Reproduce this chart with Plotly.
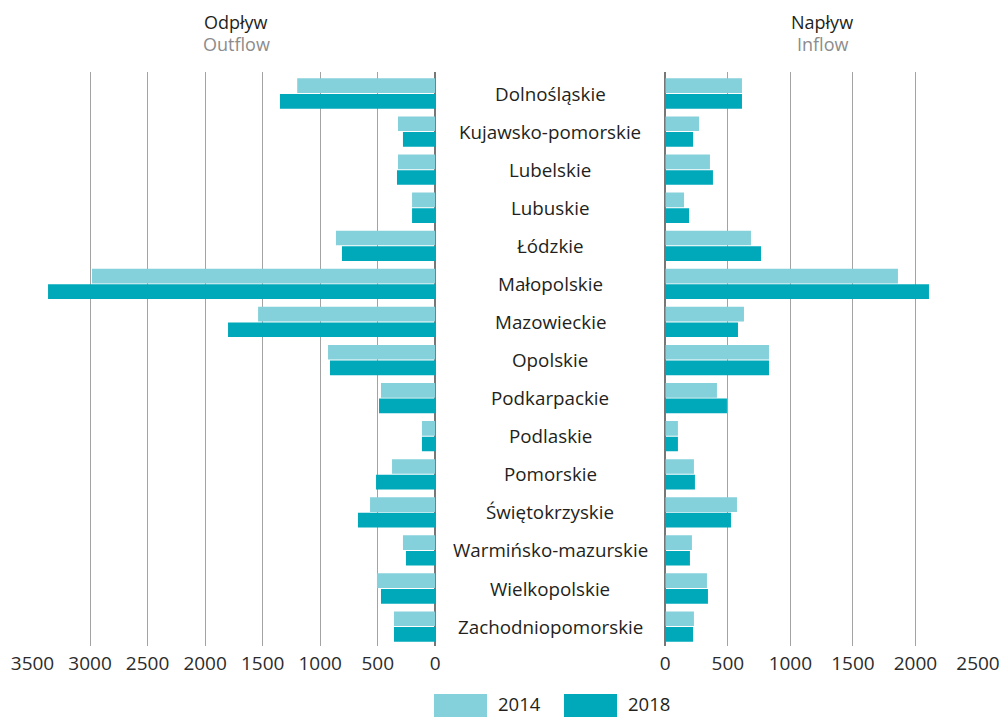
import plotly.graph_objects as go

categories = ["Dolnośląskie", "Kujawsko-pomorskie", "Lubelskie", "Lubuskie", "Łódzkie",
              "Małopolskie", "Mazowieckie", "Opolskie", "Podkarpackie", "Podlaskie",
              "Pomorskie", "Świętokrzyskie", "Warmińsko-mazurskie", "Wielkopolskie",
              "Zachodniopomorskie"]
outflow_2014 = [1200, 324, 324, 202, 863, 2983, 1540, 932, 472, 116, 376, 567, 281, 507, 359]
outflow_2018 = [1350, 281, 333, 202, 811, 3365, 1801, 915, 489, 116, 515, 672, 255, 472, 359]
inflow_2014 = [613, 270, 357, 150, 685, 1860, 629, 829, 413, 101, 229, 573, 213, 333, 229]
inflow_2018 = [613, 222, 381, 190, 765, 2108, 581, 829, 493, 101, 237, 525, 197, 341, 222]
out_ticks = [0, 500, 1000, 1500, 2000, 2500, 3000, 3500]
in_ticks = [0, 500, 1000, 1500, 2000, 2500]
years = ["2014", "2018"]

C14 = "#85D1DB"
C18 = "#00A9BA"
FONT = "Open Sans"
W, H = 1007, 717

fig = go.Figure()
for name, vals, col in [(years[0], outflow_2014, C14), (years[1], outflow_2018, C18)]:
    fig.add_trace(go.Bar(y=categories, x=vals, orientation="h", marker=dict(color=col, line=dict(width=0)),
                         name=name, xaxis="x", yaxis="y", showlegend=False))
for name, vals, col in [(years[0], inflow_2014, C14), (years[1], inflow_2018, C18)]:
    fig.add_trace(go.Bar(y=categories, x=vals, orientation="h", marker=dict(color=col, line=dict(width=0)),
                         name=name, xaxis="x2", yaxis="y2", showlegend=False))

ytop, ybot = 72, 646
ydom = [1 - ybot / H, 1 - ytop / H]
yrange = [len(categories) - 1 + 0.51, -0.565]

grid = dict(showgrid=True, gridcolor="#A3A3A3", gridwidth=1.3, zeroline=True, zerolinecolor="#777777",
            zerolinewidth=1.8, showline=False, ticks="", automargin=False, ticklabelstandoff=4,
            tickfont=dict(family=FONT, size=19, color="#2B2B2B"))

fig.update_layout(
    width=W, height=H, margin=dict(l=0, r=0, t=0, b=0, pad=0, autoexpand=False),
    paper_bgcolor="white", plot_bgcolor="white",
    barmode="group", bargap=0.18, bargroupgap=0.06,
    xaxis=dict(domain=[32.5 / W, 435.3 / W], range=[3500, 0], tickvals=out_ticks,
               ticktext=[str(t) for t in out_ticks], anchor="y", **grid),
    xaxis2=dict(domain=[665.3 / W, 978 / W], range=[0, 2500], tickvals=in_ticks,
                ticktext=[str(t) for t in in_ticks], anchor="y2", **grid),
    yaxis=dict(domain=ydom, range=yrange, type="category", showticklabels=False, showgrid=False,
               zeroline=False, anchor="x", automargin=False),
    yaxis2=dict(domain=ydom, range=yrange, type="category", showticklabels=False, showgrid=False,
                zeroline=False, anchor="x2", automargin=False),
    showlegend=False,
)

for c in categories:
    fig.add_annotation(x=550.3 / W, xref="paper", y=c, yref="y", text=c, showarrow=False,
                       font=dict(family=FONT, size=18.8, color="#231F20"), xanchor="center", yanchor="middle")

for cx, t1, t2 in [(236, "Odpływ", "Outflow"), (822, "Napływ", "Inflow")]:
    fig.add_annotation(x=cx / W, y=1 - 22 / H, xref="paper", yref="paper", text=t1, showarrow=False,
                       font=dict(family=FONT, size=18, color="#231F20"), xanchor="center", yanchor="middle")
    fig.add_annotation(x=cx / W, y=1 - 44 / H, xref="paper", yref="paper", text=t2, showarrow=False,
                       font=dict(family=FONT, size=18, color="#8C8C8C"), xanchor="center", yanchor="middle")

for (x0, x1, tx), name, col in [((434, 487, 497), years[0], C14), ((564, 617, 627), years[1], C18)]:
    fig.add_shape(type="rect", xref="paper", yref="paper", x0=x0 / W, x1=x1 / W, y0=0, y1=1 - 694 / H,
                  fillcolor=col, line=dict(width=0))
    fig.add_annotation(x=tx / W, y=0, xref="paper", yref="paper", text=name, showarrow=False,
                       font=dict(family=FONT, size=18.5, color="#231F20"), xanchor="left", yanchor="bottom",
                       borderpad=0)

fig.write_html("out.html", config={"displayModeBar": False},
               post_script="document.body.style.margin='0px';")
